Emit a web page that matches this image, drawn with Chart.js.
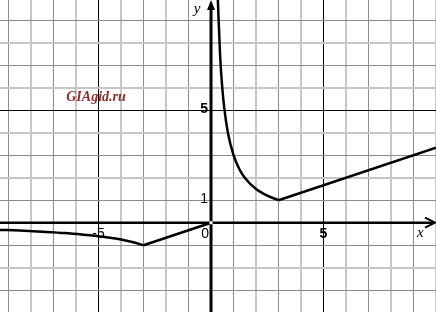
<!DOCTYPE html>
<html lang="ru">
<head>
<meta charset="UTF-8">
<title>График</title>
<script src="https://cdn.jsdelivr.net/npm/chart.js@4.4.0/dist/chart.umd.min.js"></script>
<style>
  html, body { margin: 0; padding: 0; background: #ffffff; }
  canvas { display: block; }
</style>
</head>
<body>
<canvas id="graph" width="436" height="312"></canvas>
<script>
// axis ranges (units), one grid cell = 1
var xMin = -9.38, xMax = 10.0;
var yMin = -3.97, yMax = 9.9;
var xGrid = [-9, -8, -7, -6, -5, -4, -3, -2, -1, 0, 1, 2, 3, 4, 5, 6, 7, 8, 9, 10];
var yGrid = [-3, -2, -1, 0, 1, 2, 3, 4, 5, 6, 7, 8, 9];

// curve pieces
var leftCurveX = [-9.38, -8.5, -7.5, -6.5, -5.5, -5, -4.5, -4, -3.5, -3];
var leftCurveY = [-0.32, -0.35, -0.4, -0.46, -0.55, -0.6, -0.67, -0.75, -0.86, -1];
var leftLineX = [-3, 0];
var leftLineY = [-1, 0];
var rightCurveX = [0.3, 0.4, 0.5, 0.6, 0.75, 1, 1.25, 1.5, 2, 2.5, 3];
var rightCurveY = [10, 7.5, 6, 5, 4, 3, 2.4, 2, 1.5, 1.2, 1];
var rightLineX = [3, 10];
var rightLineY = [1, 3.33];

// labels
var xLabels = [{ v: -5, t: '-5', bold: false }, { v: 5, t: '5', bold: true }];
var yLabels = [{ v: 5, t: '5', bold: true }, { v: 1, t: '1', bold: false }];

function pts(xs, ys) {
  return xs.map(function (x, i) { return { x: x, y: ys[i] }; });
}

function gridColor(ctx) {
  var v = ctx.tick ? ctx.tick.value : 0;
  if (v === 0) return 'rgba(0,0,0,0)';
  if (Math.abs(v) === 5) return '#000000';
  return (Math.abs(v) % 2 === 0) ? '#c6c6c6' : '#8c8c8c';
}
function gridWidth(ctx) {
  var v = ctx.tick ? ctx.tick.value : 0;
  if (Math.abs(v) === 5) return 1;
  return (Math.abs(v) % 2 === 0) ? 2 : 1;
}

var lineStyle = {
  borderColor: '#000000',
  borderWidth: 2.5,
  pointRadius: 0,
  fill: false,
  showLine: true
};

var axesPlugin = {
  id: 'axesPlugin',
  afterDatasetsDraw: function (chart) {
    var c = chart.ctx;
    var xs = chart.scales.x, ys = chart.scales.y;
    var x0 = xs.getPixelForValue(0), y0 = ys.getPixelForValue(0);
    var w = chart.width, h = chart.height;
    c.save();
    c.strokeStyle = '#000';
    c.fillStyle = '#000';
    c.lineWidth = 3;
    // y axis
    c.beginPath();
    c.moveTo(x0, h);
    c.lineTo(x0, 6);
    c.stroke();
    c.beginPath();
    c.moveTo(x0, 0);
    c.lineTo(x0 - 4, 10);
    c.lineTo(x0 + 4, 10);
    c.closePath();
    c.fill();
    // x axis
    c.lineWidth = 2.5;
    c.beginPath();
    c.moveTo(0, y0);
    c.lineTo(w - 1, y0);
    c.stroke();
    c.lineWidth = 2;
    c.beginPath();
    c.moveTo(w - 11, y0 - 5);
    c.lineTo(w - 1, y0);
    c.lineTo(w - 11, y0 + 5);
    c.stroke();

    // open point at the origin
    c.fillStyle = '#fff';
    c.beginPath();
    c.arc(x0, y0, 1.8, 0, Math.PI * 2);
    c.fill();

    // tick labels
    c.fillStyle = '#000';
    c.textBaseline = 'middle';
    c.textAlign = 'center';
    xLabels.forEach(function (l) {
      c.font = (l.bold ? 'bold ' : '') + '14px "Liberation Sans", Arial, sans-serif';
      c.fillText(l.t, xs.getPixelForValue(l.v), y0 + 11);
    });
    c.textAlign = 'right';
    yLabels.forEach(function (l) {
      c.font = (l.bold ? 'bold ' : '') + '14px "Liberation Sans", Arial, sans-serif';
      c.fillText(l.t, x0 - 3, ys.getPixelForValue(l.v) - 1);
    });
    c.font = '14px "Liberation Sans", Arial, sans-serif';
    c.fillText('0', x0 - 2, y0 + 11);

    // axis names
    c.font = 'italic 15px "Liberation Serif", "Times New Roman", serif';
    c.textAlign = 'center';
    c.fillText('x', xs.getPixelForValue(9.3), y0 + 10);
    c.fillText('y', x0 - 14, 9);

    // watermark
    c.fillStyle = '#8b2f2f';
    c.font = 'bold italic 14px "Liberation Serif", "Times New Roman", serif';
    c.fillText('GIAgid.ru', 96, 97);
    c.restore();
  }
};

new Chart(document.getElementById('graph'), {
  type: 'scatter',
  data: {
    datasets: [
      Object.assign({ data: pts(leftCurveX, leftCurveY), cubicInterpolationMode: 'monotone' }, lineStyle),
      Object.assign({ data: pts(leftLineX, leftLineY) }, lineStyle),
      Object.assign({ data: pts(rightCurveX, rightCurveY), cubicInterpolationMode: 'monotone' }, lineStyle),
      Object.assign({ data: pts(rightLineX, rightLineY) }, lineStyle)
    ]
  },
  options: {
    responsive: false,
    animation: false,
    devicePixelRatio: 1,
    layout: { padding: 0 },
    plugins: {
      legend: { display: false },
      tooltip: { enabled: false }
    },
    scales: {
      x: {
        type: 'linear',
        min: xMin,
        max: xMax,
        afterBuildTicks: function (s) { s.ticks = xGrid.map(function (v) { return { value: v }; }); },
        ticks: { display: false },
        border: { display: false },
        grid: { drawTicks: false, color: gridColor, lineWidth: gridWidth }
      },
      y: {
        type: 'linear',
        min: yMin,
        max: yMax,
        afterBuildTicks: function (s) { s.ticks = yGrid.map(function (v) { return { value: v }; }); },
        ticks: { display: false },
        border: { display: false },
        grid: { drawTicks: false, color: gridColor, lineWidth: gridWidth }
      }
    }
  },
  plugins: [axesPlugin]
});
</script>
</body>
</html>
